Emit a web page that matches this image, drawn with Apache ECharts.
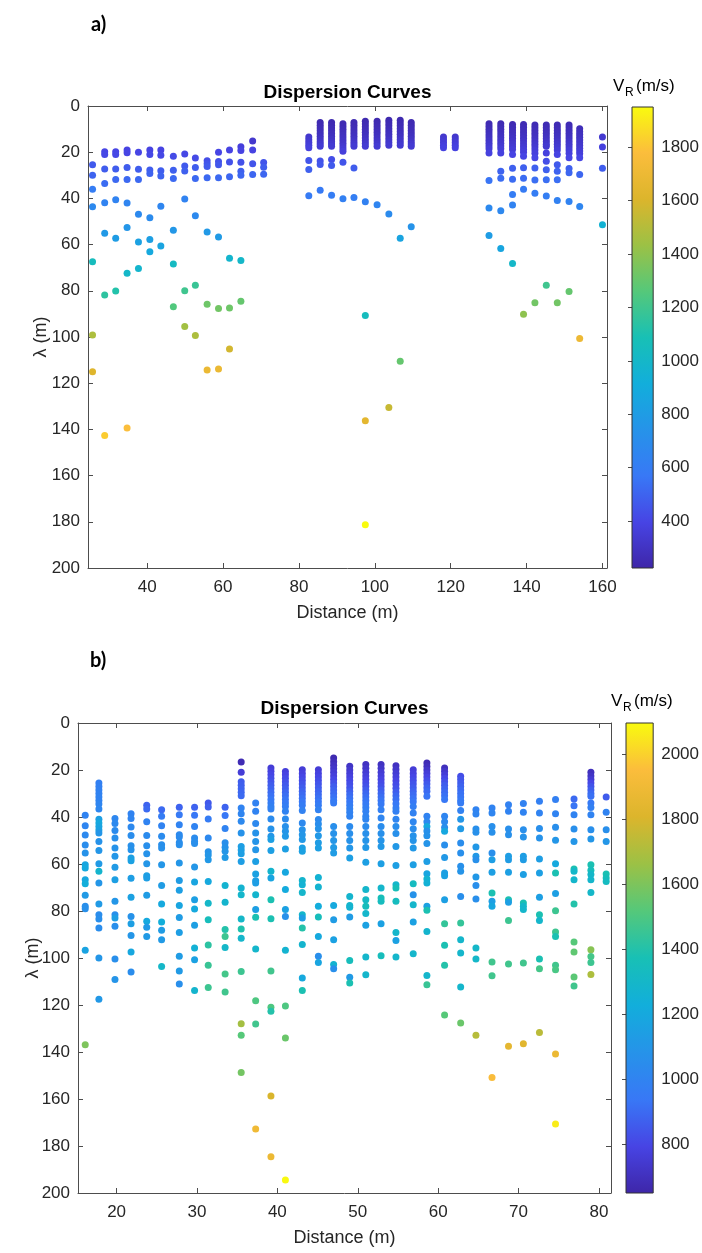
<!DOCTYPE html>
<html><head><meta charset="utf-8">
<script src="https://cdn.jsdelivr.net/npm/echarts@6.0.0/dist/echarts.min.js"></script>
<style>html,body{margin:0;padding:0;background:#fff}#c{width:702px;height:1253px}</style>
</head><body><div id="c"></div>
<script>
// ---------- Panel a data (distance columns, wavelength, velocity) ----------
const distA = [25.6, 28.8, 31.7, 34.7, 37.7, 40.7, 43.6, 46.9, 49.9, 52.7, 55.8, 58.8, 61.7, 64.7, 67.8, 70.7,
  82.6, 85.6, 88.6, 91.6, 94.5, 97.5, 100.6, 103.7, 106.7, 109.6, 118.1, 121.2,
  130.1, 133.2, 136.3, 139.2, 142.2, 145.2, 148.1, 151.2, 154.0, 160.0];
const lamA = [
  [25.4, 30.0, 36.0, 43.6, 67.4, 99.1, 115.0],
  [19.8, 21.0, 27.3, 33.5, 41.9, 55.1, 81.8, 142.6],
  [19.8, 21.0, 27.3, 31.8, 40.6, 57.3, 80.1],
  [19.1, 20.2, 26.6, 31.8, 42.0, 52.6, 72.4, 139.4],
  [20.0, 27.4, 31.8, 46.9, 58.9, 70.3],
  [19.1, 21.0, 27.7, 29.2, 48.4, 57.8, 63.1],
  [19.1, 21.3, 28.0, 30.3, 43.4, 60.6],
  [21.8, 27.8, 31.4, 53.8, 68.4, 86.9],
  [20.8, 26.0, 28.1, 40.3, 80.0, 95.5],
  [22.5, 26.6, 31.4, 47.5, 77.6, 99.4],
  [23.7, 25.0, 26.2, 31.1, 54.5, 85.8, 114.3],
  [20.0, 24.0, 25.4, 31.1, 56.7, 87.7, 113.9],
  [19.0, 24.2, 30.6, 65.9, 87.4, 105.2],
  [17.6, 19.3, 24.3, 28.3, 30.0, 66.9, 84.5],
  [15.2, 19.1, 25.0, 29.6],
  [24.5, 26.5, 29.5],
  [13.4, 14.6, 15.8, 17.0, 18.1, 23.6, 27.5, 38.8],
  [7.1, 8.3, 9.5, 10.7, 11.9, 13.1, 14.3, 15.5, 16.5, 17.4, 23.8, 25.3, 36.5],
  [7.1, 8.3, 9.5, 10.7, 11.9, 13.1, 14.3, 15.5, 16.5, 17.4, 23.2, 25.8, 38.6],
  [7.7, 8.9, 10.1, 11.3, 12.5, 13.7, 14.9, 16.1, 17.3, 18.5, 19.6, 24.3, 40.1],
  [7.1, 8.3, 9.5, 10.7, 11.9, 13.1, 14.3, 15.5, 16.5, 17.4, 26.8, 39.6],
  [6.6, 7.8, 9.0, 10.2, 11.4, 12.6, 13.8, 15.0, 16.2, 17.4, 41.4, 90.7, 136.3, 181.3],
  [6.6, 7.8, 9.0, 10.2, 11.4, 12.6, 13.8, 15.0, 16.2, 17.4, 42.7],
  [6.2, 7.4, 8.6, 9.8, 11.0, 12.2, 13.4, 14.6, 15.8, 17.0, 46.7, 130.5],
  [6.2, 7.4, 8.6, 9.8, 11.0, 12.2, 13.4, 14.6, 15.8, 17.0, 57.3, 110.5],
  [7.1, 8.3, 9.5, 10.7, 11.9, 13.1, 14.3, 15.5, 16.5, 17.4, 52.3],
  [13.4, 14.6, 15.8, 17.0, 18.1],
  [13.4, 14.6, 15.8, 17.0, 18.1],
  [7.7, 8.9, 10.1, 11.3, 12.5, 13.7, 14.9, 16.1, 17.3, 18.5, 20.3, 32.2, 44.2, 56.1],
  [7.7, 8.9, 10.1, 11.3, 12.5, 13.7, 14.9, 16.1, 17.3, 18.5, 20.3, 28.2, 31.3, 45.4, 61.7],
  [8.0, 9.2, 10.4, 11.6, 12.8, 14.0, 15.2, 16.4, 17.6, 18.8, 21.0, 27.0, 31.7, 38.3, 42.9, 68.2],
  [8.0, 9.2, 10.4, 11.6, 12.8, 14.0, 15.2, 16.4, 17.6, 18.8, 20.0, 21.7, 26.7, 31.3, 36.0, 90.1],
  [8.2, 9.4, 10.6, 11.8, 13.0, 14.2, 15.4, 16.6, 17.8, 19.0, 20.5, 22.4, 26.8, 32.0, 37.8, 85.2],
  [8.2, 9.4, 10.6, 11.8, 13.0, 14.2, 15.4, 16.6, 17.4, 20.3, 23.9, 27.6, 31.9, 39.0, 77.6],
  [8.2, 9.4, 10.6, 11.8, 13.0, 14.2, 15.4, 16.6, 17.8, 19.0, 21.0, 25.4, 28.3, 31.9, 40.9, 85.2],
  [8.2, 9.4, 10.6, 11.8, 13.0, 14.2, 15.4, 16.6, 17.8, 19.0, 20.5, 22.4, 27.1, 28.9, 41.3, 80.3],
  [9.9, 11.1, 12.3, 13.5, 14.7, 15.9, 17.1, 18.3, 19.5, 20.7, 22.4, 29.6, 43.5, 100.7],
  [13.4, 17.7, 27.0, 51.4]
];
const velA = [
  [470, 500, 600, 680, 1050, 1480, 1620],
  [400, 410, 480, 530, 640, 780, 1150, 1820],
  [400, 410, 480, 520, 640, 800, 1120],
  [390, 400, 480, 520, 650, 760, 1000, 1780],
  [400, 480, 520, 680, 830, 980],
  [390, 410, 480, 500, 690, 820, 880],
  [390, 410, 480, 500, 660, 850],
  [420, 490, 520, 770, 1030, 1250],
  [410, 470, 490, 640, 1200, 1450],
  [420, 480, 520, 680, 1180, 1480],
  [430, 450, 470, 520, 780, 1320, 1690],
  [400, 440, 460, 520, 790, 1330, 1690],
  [390, 440, 510, 980, 1320, 1580],
  [370, 390, 440, 490, 510, 1000, 1300],
  [330, 390, 450, 510],
  [450, 480, 510],
  [330, 340, 350, 360, 380, 450, 490, 590],
  [250, 255, 262, 270, 280, 290, 302, 315, 330, 345, 440, 460, 580],
  [250, 255, 262, 270, 280, 290, 302, 315, 330, 345, 430, 470, 600],
  [255, 260, 268, 276, 285, 295, 306, 318, 332, 350, 370, 450, 620],
  [250, 255, 262, 270, 280, 290, 302, 315, 330, 345, 480, 610],
  [245, 252, 260, 268, 278, 288, 300, 312, 326, 345, 630, 1050, 1650, 1950],
  [245, 252, 260, 268, 278, 288, 300, 312, 326, 345, 650],
  [245, 252, 260, 268, 278, 288, 300, 312, 326, 340, 690, 1550],
  [245, 252, 260, 268, 278, 288, 300, 312, 326, 340, 850, 1300],
  [250, 255, 262, 270, 280, 290, 302, 315, 330, 345, 740],
  [330, 340, 355, 370, 385],
  [330, 340, 355, 370, 385],
  [255, 262, 270, 280, 290, 300, 312, 325, 340, 355, 380, 560, 680, 800],
  [255, 262, 270, 280, 290, 300, 312, 325, 340, 355, 380, 500, 530, 670, 860],
  [255, 262, 270, 280, 290, 300, 312, 325, 340, 355, 390, 490, 530, 600, 640, 1000],
  [258, 265, 272, 280, 290, 300, 312, 325, 340, 355, 370, 400, 490, 530, 590, 1400],
  [258, 265, 272, 280, 290, 300, 312, 325, 340, 355, 375, 400, 490, 540, 600, 1330],
  [258, 265, 272, 280, 290, 300, 312, 325, 340, 380, 430, 490, 540, 610, 1200],
  [258, 265, 272, 280, 290, 300, 312, 325, 340, 355, 390, 470, 500, 540, 630, 1330],
  [258, 265, 272, 280, 290, 300, 312, 325, 340, 355, 375, 400, 490, 510, 640, 1300],
  [270, 278, 286, 295, 305, 315, 326, 338, 350, 365, 400, 510, 660, 1700],
  [340, 380, 480, 950]
];

// ---------- Panel b data ----------
const distB = [16.1, 17.8, 19.8, 21.8, 23.75, 25.6, 27.8, 29.7, 31.4, 33.5, 35.5, 37.3, 39.2, 41.0, 43.1, 45.1, 47.0,
  49.0, 51.0, 52.9, 54.75, 56.9, 58.6, 60.8, 62.8, 64.7, 66.7, 68.75, 70.6, 72.6, 74.6, 76.9, 79.0, 80.9];
const lamB = [
  [39.3, 43.7, 47.7, 51.9, 55.3, 60.3, 61.7, 66.7, 68.4, 73.3, 78.0, 79.0, 96.7, 136.9],
  [25.5, 27.0, 28.5, 30.0, 31.5, 33.0, 34.5, 36.6, 41.0, 42.5, 44.0, 45.5, 46.8, 50.4, 54.3, 59.9, 63.1, 68.1, 77.0, 81.6, 83.4, 87.2, 100.0, 117.6],
  [40.6, 42.8, 45.7, 48.9, 53.2, 56.7, 61.4, 66.7, 75.9, 81.6, 83.0, 86.5, 100.4, 109.2],
  [38.6, 40.6, 44.3, 47.9, 52.2, 53.9, 57.4, 58.6, 66.1, 74.2, 82.3, 85.4, 90.4, 97.4, 106.0],
  [35.0, 36.6, 42.0, 47.9, 52.2, 55.6, 59.9, 65.0, 66.0, 73.3, 84.4, 86.9, 90.8],
  [36.9, 39.7, 43.7, 48.2, 51.8, 53.2, 60.3, 69.1, 77.0, 84.7, 88.2, 92.2, 103.6],
  [35.9, 39.0, 43.3, 47.5, 48.5, 50.8, 51.8, 59.6, 67.0, 71.2, 77.7, 82.8, 89.1, 99.3, 105.5, 111.1],
  [35.9, 39.3, 44.0, 48.9, 50.4, 51.3, 61.3, 67.7, 75.2, 79.2, 86.1, 95.7, 100.7, 113.8],
  [34.0, 35.7, 40.9, 48.9, 54.8, 56.2, 58.2, 67.4, 76.7, 83.7, 94.5, 103.1, 112.5],
  [35.9, 39.4, 44.9, 51.0, 52.9, 54.6, 57.2, 69.2, 76.3, 87.9, 90.8, 95.5, 106.8, 114.5],
  [16.6, 21.0, 25.0, 26.5, 28.0, 29.5, 31.0, 36.2, 38.6, 41.8, 46.8, 52.5, 54.0, 55.6, 58.9, 70.2, 73.1, 83.4, 87.7, 91.6, 105.7, 128.0, 132.9, 148.7],
  [34.0, 37.6, 42.8, 46.8, 50.4, 53.9, 58.9, 64.3, 67.1, 68.1, 73.1, 79.4, 82.7, 96.2, 118.2, 128.1, 172.8],
  [19.1, 20.5, 22.0, 23.5, 25.0, 26.5, 28.0, 29.5, 31.0, 32.5, 34.0, 35.5, 36.6, 40.9, 45.1, 48.2, 49.6, 54.3, 63.1, 66.0, 75.2, 83.3, 105.5, 121.0, 122.7, 158.7, 184.6],
  [20.6, 22.0, 23.5, 25.0, 26.5, 28.0, 29.5, 31.0, 32.5, 34.0, 35.5, 37.6, 40.9, 44.0, 46.1, 48.2, 53.6, 63.5, 70.9, 79.4, 82.3, 96.7, 120.4, 134.0, 194.5],
  [19.9, 21.5, 23.0, 24.5, 26.0, 27.5, 29.0, 30.5, 32.0, 33.5, 35.0, 37.2, 42.6, 45.4, 47.5, 49.6, 53.2, 54.6, 67.0, 68.8, 72.1, 81.6, 83.0, 87.2, 94.3, 108.5, 113.8],
  [19.9, 21.5, 23.0, 24.5, 26.0, 27.5, 29.0, 30.5, 32.0, 33.5, 35.0, 36.9, 41.1, 43.0, 45.0, 48.0, 51.0, 53.2, 65.7, 69.8, 78.0, 82.6, 90.8, 99.3, 101.9],
  [14.9, 16.5, 18.0, 19.5, 21.0, 22.5, 24.0, 25.5, 27.0, 28.5, 30.0, 31.5, 33.0, 34.0, 44.0, 47.0, 50.0, 53.0, 55.3, 77.7, 83.7, 92.2, 102.8, 104.6],
  [18.4, 20.0, 21.5, 23.0, 24.5, 26.0, 27.5, 29.0, 30.5, 32.0, 33.5, 35.0, 36.5, 38.0, 39.7, 44.0, 47.0, 50.0, 53.2, 57.4, 73.8, 77.7, 78.4, 82.6, 101.1, 108.2, 110.6],
  [17.7, 19.3, 21.0, 22.5, 24.0, 25.5, 27.0, 28.5, 30.0, 31.5, 33.0, 34.5, 36.0, 37.5, 39.7, 41.0, 44.0, 47.0, 50.0, 53.0, 59.3, 70.9, 75.2, 78.0, 81.1, 86.1, 99.6, 107.1],
  [17.7, 19.3, 21.0, 22.5, 24.0, 25.5, 27.0, 28.5, 30.0, 31.5, 33.0, 34.5, 36.9, 40.4, 44.0, 47.0, 50.0, 52.5, 59.9, 70.2, 74.5, 75.9, 85.4, 99.0],
  [18.2, 19.8, 21.4, 23.0, 24.6, 26.2, 27.8, 29.4, 31.0, 32.6, 34.4, 36.2, 37.6, 41.0, 44.0, 47.0, 52.5, 60.6, 68.8, 70.2, 75.9, 89.1, 92.5, 99.6],
  [19.9, 21.5, 23.0, 24.5, 26.0, 27.5, 29.0, 30.5, 32.0, 33.5, 35.5, 38.3, 42.0, 45.0, 48.0, 50.0, 53.2, 60.3, 68.4, 73.1, 77.3, 84.7, 98.2],
  [17.0, 18.5, 20.0, 21.5, 23.0, 24.5, 26.0, 27.5, 29.0, 31.2, 39.7, 42.0, 44.0, 46.0, 48.0, 51.3, 58.9, 64.1, 66.4, 68.1, 78.0, 79.7, 88.7, 107.4, 111.4],
  [19.1, 20.5, 22.0, 23.5, 25.0, 26.5, 28.0, 29.5, 31.0, 32.6, 39.7, 42.0, 44.5, 46.1, 51.9, 57.2, 63.8, 65.0, 75.2, 85.4, 94.6, 103.1, 124.3],
  [22.7, 24.0, 25.5, 27.0, 28.5, 30.0, 31.5, 33.0, 34.0, 37.2, 41.0, 45.0, 51.1, 55.3, 61.0, 63.1, 73.8, 85.1, 92.2, 97.9, 112.3, 127.7],
  [36.9, 38.7, 45.1, 46.5, 52.8, 56.7, 58.2, 65.5, 69.1, 74.9, 95.7, 100.4, 132.9],
  [36.2, 38.3, 44.0, 46.5, 55.3, 58.2, 63.5, 72.3, 75.9, 78.0, 101.7, 107.5, 150.8],
  [34.8, 37.6, 45.1, 47.5, 56.7, 58.2, 63.5, 75.2, 76.3, 84.0, 102.6, 137.6],
  [34.3, 38.0, 45.4, 48.5, 56.7, 58.2, 64.5, 76.6, 78.0, 79.4, 102.1, 136.5],
  [33.3, 38.3, 44.9, 48.9, 57.9, 63.8, 74.1, 81.6, 84.0, 100.4, 104.6, 131.7],
  [32.6, 38.6, 44.4, 49.9, 59.9, 63.8, 72.6, 79.9, 88.9, 90.8, 103.1, 105.0, 140.9, 170.6],
  [32.3, 35.2, 39.0, 45.1, 50.4, 62.1, 63.1, 66.7, 77.0, 93.2, 97.4, 108.1, 111.9],
  [21.0, 22.5, 24.0, 25.5, 27.0, 28.5, 30.0, 31.2, 34.0, 36.0, 39.0, 45.4, 49.4, 60.3, 62.7, 64.5, 66.7, 72.1, 96.5, 99.4, 101.9, 107.0],
  [31.5, 38.0, 45.4, 50.4, 64.3, 66.0, 67.4]
];
const velB = [
  [1000, 1010, 1030, 1050, 1080, 1180, 1200, 1190, 1230, 1120, 1060, 1070, 1170, 1600],
  [980, 985, 990, 995, 1000, 1000, 1010, 1020, 1150, 1200, 1180, 1160, 1100, 1080, 1100, 1120, 1280, 1100, 1120, 1050, 1060, 1050, 1100, 1110],
  [1020, 1030, 1040, 1060, 1080, 1100, 1120, 1150, 1100, 1060, 1140, 1060, 1060, 1090],
  [1000, 1010, 1030, 1050, 1070, 1080, 1150, 1160, 1140, 1160, 1080, 1150, 1100, 1190, 1050],
  [880, 900, 1000, 1040, 1060, 1080, 1100, 1150, 1140, 1130, 1200, 1120, 1120],
  [900, 960, 1000, 1040, 1060, 1070, 1100, 1130, 1200, 1230, 1130, 1120, 1300],
  [880, 950, 1000, 1030, 1040, 1050, 1060, 1100, 1130, 1150, 1180, 1130, 1140, 1130, 1120, 1060],
  [880, 940, 1000, 1040, 1050, 1060, 1100, 1180, 1150, 1200, 1150, 1250, 1160, 1280],
  [850, 870, 960, 1030, 1080, 1100, 1110, 1200, 1300, 1350, 1420, 1450, 1460],
  [880, 940, 1000, 1060, 1080, 1100, 1120, 1270, 1280, 1400, 1460, 1300, 1480, 1470],
  [680, 760, 860, 870, 880, 890, 900, 1000, 1010, 1030, 1080, 1140, 1150, 1150, 1140, 1270, 1290, 1300, 1390, 1290, 1460, 1680, 1520, 1580],
  [990, 1000, 1030, 1080, 1090, 1100, 1150, 1160, 1150, 1140, 1280, 1150, 1380, 1290, 1500, 1470, 1900],
  [760, 780, 800, 820, 840, 860, 880, 900, 920, 940, 960, 980, 990, 1040, 1080, 1100, 1150, 1150, 1280, 1180, 1380, 1380, 1470, 1500, 1400, 1800, 1880],
  [770, 790, 810, 830, 850, 870, 890, 910, 930, 950, 970, 1000, 1040, 1070, 1090, 1110, 1150, 1190, 1210, 1160, 1070, 1270, 1500, 1560, 2090],
  [760, 780, 800, 820, 840, 860, 880, 900, 920, 940, 960, 990, 1030, 1080, 1100, 1110, 1150, 1160, 1280, 1260, 1290, 1290, 1150, 1400, 1280, 1200, 1380],
  [760, 780, 800, 820, 840, 860, 880, 900, 920, 940, 960, 990, 1030, 1050, 1080, 1110, 1130, 1150, 1260, 1270, 1220, 1350, 1200, 1060, 1180],
  [670, 690, 710, 730, 750, 770, 800, 830, 860, 880, 900, 920, 940, 960, 1060, 1080, 1100, 1120, 1130, 1200, 1130, 1160, 1270, 1060],
  [720, 740, 760, 780, 800, 820, 840, 870, 900, 920, 940, 960, 980, 990, 1000, 1040, 1060, 1080, 1100, 1150, 1280, 1290, 1270, 1130, 1350, 1120, 1380],
  [710, 730, 750, 770, 790, 810, 830, 860, 890, 910, 930, 950, 970, 985, 1000, 1010, 1040, 1070, 1090, 1110, 1150, 1290, 1320, 1350, 1290, 1160, 1290, 1290],
  [710, 730, 750, 770, 790, 810, 830, 860, 890, 910, 930, 950, 980, 1010, 1050, 1070, 1090, 1110, 1150, 1290, 1360, 1340, 1160, 1350],
  [710, 730, 750, 770, 790, 810, 830, 860, 890, 910, 940, 960, 980, 1010, 1050, 1070, 1110, 1150, 1290, 1360, 1340, 1290, 1160, 1290],
  [760, 780, 800, 820, 840, 860, 880, 900, 920, 940, 970, 990, 1020, 1050, 1080, 1090, 1110, 1150, 1330, 1080, 1290, 1160, 1290],
  [680, 700, 730, 760, 790, 820, 850, 880, 900, 930, 1000, 1030, 1200, 1070, 1080, 1090, 1140, 1180, 1270, 1250, 1160, 1380, 1280, 1290, 1450],
  [700, 730, 760, 800, 830, 860, 880, 900, 920, 940, 1010, 1030, 1060, 1190, 1060, 1110, 1150, 1160, 1150, 1440, 1380, 1400, 1520],
  [820, 840, 860, 880, 900, 920, 930, 950, 960, 990, 1100, 1120, 1050, 1060, 1070, 1090, 1060, 1440, 1290, 1290, 1290, 1560],
  [1000, 1010, 1060, 1070, 1110, 1110, 1070, 1110, 1060, 1060, 1300, 1300, 1720],
  [1000, 1010, 1060, 1070, 1060, 1140, 1150, 1380, 1150, 1190, 1470, 1470, 1940],
  [990, 1000, 1060, 1070, 1140, 1130, 1150, 1380, 1150, 1460, 1470, 1850],
  [990, 1000, 1060, 1080, 1140, 1130, 1150, 1380, 1300, 1290, 1470, 1830],
  [980, 1000, 1060, 1080, 1140, 1150, 1150, 1380, 1290, 1380, 1480, 1730],
  [980, 1000, 1060, 1100, 1200, 1380, 1150, 1460, 1460, 1380, 1470, 1490, 1880, 2060],
  [900, 930, 1000, 1060, 1100, 1380, 1300, 1290, 1400, 1520, 1540, 1530, 1470],
  [700, 720, 750, 800, 840, 870, 900, 920, 950, 980, 1000, 1060, 1100, 1380, 1350, 1300, 1290, 1300, 1620, 1480, 1460, 1700],
  [860, 1000, 1060, 1100, 1380, 1360, 1330]
];

// ---------- axis / colour-scale settings ----------
const xRangeA = [24.4, 161.2];
const xRangeB = [15.2, 81.5];
const lamRange = [0, 200];
const vRangeA = [224, 1951];
const vRangeB = [650, 2095];
const parula = ['#3e26a8', '#4744e4', '#3878f6', '#2693e9', '#12aedb', '#18c0b5',
  '#55c87a', '#9cc145', '#dcb52c', '#fbbd3c', '#f9fb0e'];

function points(dist, lam, vel) {
  const out = [];
  dist.forEach((x, i) => lam[i].forEach((l, j) => out.push([x, l, vel[i][j]])));
  return out;
}
const dataA = points(distA, lamA, velA);
const dataB = points(distB, lamB, velB);

const INK = '#262626';
const LINE = '#4d4d4d';
const FONT = "'Liberation Sans', Arial, sans-serif";
const plain = v => String(Math.round(v));

function xAx(grid, range, step, pos, labels, name) {
  return {
    gridIndex: grid, type: 'value', min: range[0], max: range[1], minInterval: step, maxInterval: step,
    position: pos,
    axisLine: { show: true, onZero: false, lineStyle: { color: LINE, width: 1 } },
    axisTick: { show: true, inside: true, length: 5, lineStyle: { color: LINE } },
    axisLabel: { show: labels, color: INK, fontSize: 17, fontFamily: FONT, margin: 11, formatter: plain,
      showMinLabel: false, showMaxLabel: false },
    splitLine: { show: false },
    name: name || '', nameLocation: 'middle', nameGap: 36, nameMoveOverlap: false,
    nameTextStyle: { fontSize: 18, color: INK, fontFamily: FONT }
  };
}
function yAx(grid, pos, labels, name, gap) {
  return {
    gridIndex: grid, type: 'value', min: lamRange[0], max: lamRange[1], interval: 20, inverse: true,
    position: pos,
    axisLine: { show: true, onZero: false, lineStyle: { color: LINE, width: 1 } },
    axisTick: { show: true, inside: true, length: 5, lineStyle: { color: LINE } },
    axisLabel: { show: labels, color: INK, fontSize: 17, fontFamily: FONT, margin: 8, formatter: plain },
    splitLine: { show: false },
    name: name || '', nameLocation: 'middle', nameGap: gap || 38, nameRotate: 90, nameMoveOverlap: false,
    nameTextStyle: { fontSize: 18, color: INK, fontFamily: FONT }
  };
}
function cbX(grid) {
  return { gridIndex: grid, type: 'value', min: 0, max: 1, show: false };
}
function cbY(grid, range) {
  return {
    gridIndex: grid, type: 'value', min: range[0], max: range[1], minInterval: 200, maxInterval: 200,
    position: 'right',
    axisLine: { show: false },
    axisTick: { show: true, inside: true, length: 4, lineStyle: { color: LINE } },
    axisLabel: { color: INK, fontSize: 17, fontFamily: FONT, margin: 8, formatter: plain,
      showMinLabel: false, showMaxLabel: false },
    splitLine: { show: false }
  };
}
function cbSeries(xi, yi, range) {
  const stops = parula.map((c, i) => ({ offset: 1 - i / (parula.length - 1), color: c }));
  return {
    type: 'custom', xAxisIndex: xi, yAxisIndex: yi, silent: true, z: 1,
    data: [[range[0], range[1]]],
    renderItem: function (params, api) {
      const p0 = api.coord([0, api.value(1)]);
      const p1 = api.coord([1, api.value(0)]);
      return {
        type: 'rect',
        shape: { x: p0[0], y: p0[1], width: p1[0] - p0[0], height: p1[1] - p0[1] },
        style: { fill: new echarts.graphic.LinearGradient(0, 0, 0, 1, stops), stroke: '#333', lineWidth: 1 }
      };
    }
  };
}
function txt(x, y, text, size, weight, family, align) {
  return {
    type: 'text', x: x, y: y, silent: true,
    style: { text: text, fontSize: size, fontWeight: weight || 'normal', fontFamily: family || FONT,
      fill: '#000', align: align || 'left', verticalAlign: 'middle' }
  };
}

const chart = echarts.init(document.getElementById('c'), null, { renderer: 'canvas' });
chart.setOption({
  backgroundColor: '#fff',
  animation: false,
  grid: [
    { left: 88, top: 106, width: 519, height: 462 },
    { left: 632, top: 107, width: 28, height: 461 },
    { left: 78, top: 723, width: 533, height: 470 },
    { left: 626, top: 723, width: 29, height: 470 }
  ],
  xAxis: [
    xAx(0, xRangeA, 20, 'bottom', true, 'Distance (m)'),
    xAx(0, xRangeA, 20, 'top', false),
    cbX(1),
    xAx(2, xRangeB, 10, 'bottom', true, 'Distance (m)'),
    xAx(2, xRangeB, 10, 'top', false),
    cbX(3)
  ],
  yAxis: [
    yAx(0, 'left', true, 'λ (m)', 38),
    yAx(0, 'right', false),
    cbY(1, vRangeA),
    yAx(2, 'left', true, 'λ (m)', 36),
    yAx(2, 'right', false),
    cbY(3, vRangeB)
  ],
  visualMap: [
    { type: 'continuous', show: false, min: vRangeA[0], max: vRangeA[1], dimension: 2, seriesIndex: 0, inRange: { color: parula } },
    { type: 'continuous', show: false, min: vRangeB[0], max: vRangeB[1], dimension: 2, seriesIndex: 2, inRange: { color: parula } }
  ],
  series: [
    { type: 'scatter', xAxisIndex: 0, yAxisIndex: 0, data: dataA, symbolSize: 7, itemStyle: { opacity: 1 }, z: 3 },
    cbSeries(2, 2, vRangeA),
    { type: 'scatter', xAxisIndex: 3, yAxisIndex: 3, data: dataB, symbolSize: 7, itemStyle: { opacity: 1 }, z: 3 },
    cbSeries(5, 5, vRangeB)
  ],
  graphic: [
    txt(91, 25, 'a)', 20, 'bold', 'Lato, sans-serif'),
    txt(347.5, 93, 'Dispersion Curves', 19, 'bold', FONT, 'center'),
    txt(613, 86, 'V', 17),
    txt(625, 93, 'R', 12),
    txt(636, 86, '(m/s)', 17),
    txt(90, 661, 'b)', 20, 'bold', 'Lato, sans-serif'),
    txt(344.5, 709, 'Dispersion Curves', 19, 'bold', FONT, 'center'),
    txt(611, 701, 'V', 17),
    txt(623, 708, 'R', 12),
    txt(634, 701, '(m/s)', 17)
  ]
});
</script>
</body></html>
